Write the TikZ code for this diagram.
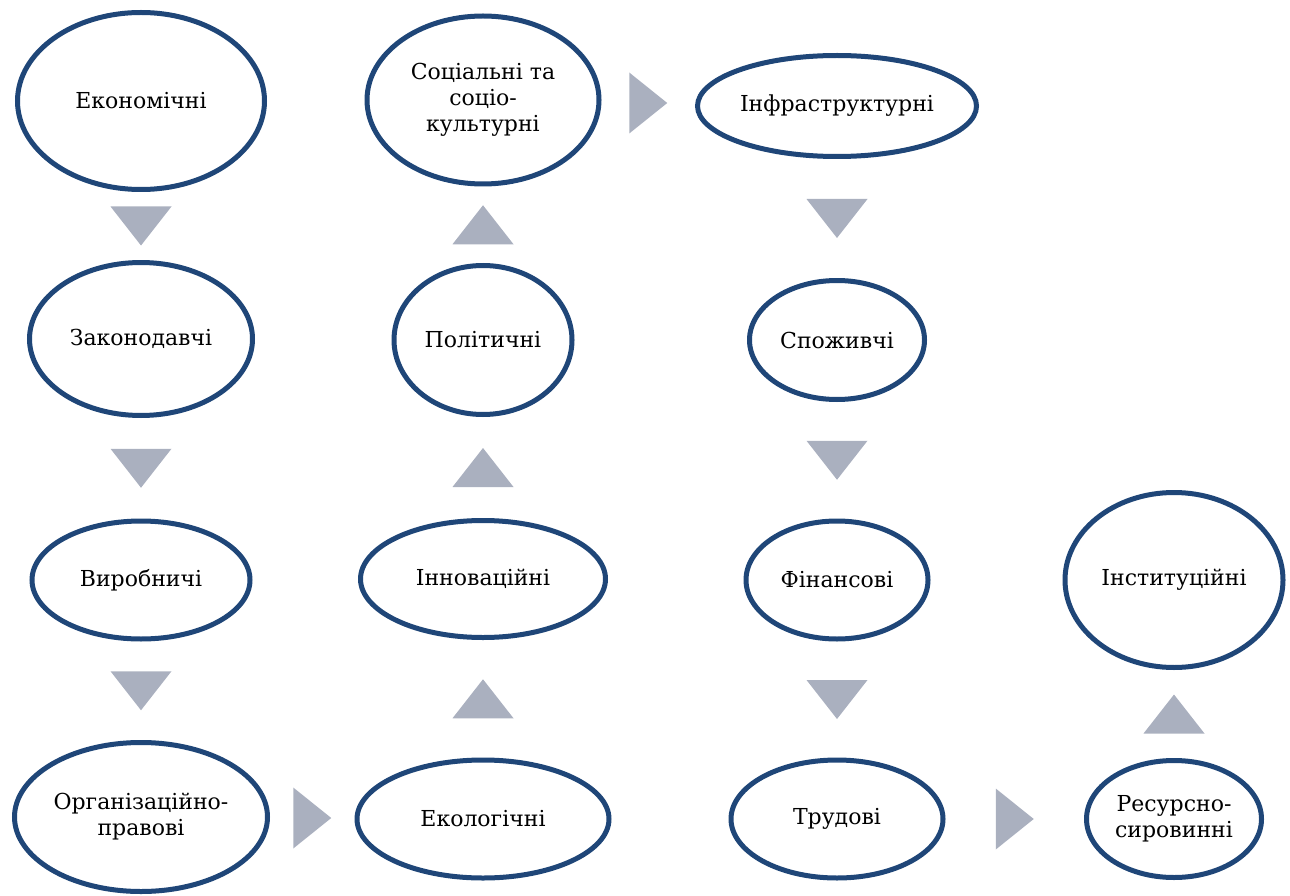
\documentclass[tikz,border=0pt]{standalone}
\usepackage{fontspec}
\setmainfont{DejaVu Serif}
\newfontfamily\factorfont{DejaVu Serif}
\usetikzlibrary{shapes,positioning,calc}
\definecolor{factorblue}{RGB}{31,70,120}
\definecolor{chevrongray}{RGB}{170,176,191}

\begin{document}
\begin{tikzpicture}
  [x=1pt, y=1pt,
   factor/.style 2 args={
    ellipse,
    draw=factorblue,
    line width=5pt,
    fill=white,
    minimum width=#1pt,
    minimum height=#2pt,
    inner sep=0pt,
    align=center,
    font=\factorfont\fontsize{22}{26}\selectfont
    },
   chevron/.style={fill=chevrongray}
  ]
  \useasboundingbox (0,0) rectangle (1290,-896);

  % prima colonna
  \node [factor={247}{177}] (econ) at (141,-101) {Економічні};
  \node [factor={223}{153}, below=238pt of econ.center, anchor=center] (zakon) {Законодавчі};
  \node [factor={218}{118}, below=241pt of zakon.center, anchor=center] (vyrob) {Виробничі};
  \node [factor={253}{149}, below=237pt of vyrob.center, anchor=center] (orhan) {Організаційно-\\правові};

  % seconda colonna (dal basso)
  \node [factor={232}{168}] (socio) at (483,-100) {Соціальні та\\соціо-\\культурні};
  \node [factor={178}{149}, below=240pt of socio.center, anchor=center] (polit) {Політичні};
  \node [factor={245}{117}, below=239pt of polit.center, anchor=center] (innov) {Інноваційні};
  \node [factor={252}{118}, below=240pt of innov.center, anchor=center] (ekol) {Екологічні};

  % terza colonna
  \node [factor={279}{101}] (infra) at (837,-106) {Інфраструктурні};
  \node [factor={175}{119}, below=234pt of infra.center, anchor=center] (spozh) {Споживчі};
  \node [factor={182}{118}, below=240pt of spozh.center, anchor=center] (finan) {Фінансові};
  \node [factor={212}{118}, below=239pt of finan.center, anchor=center] (trud) {Трудові};

  % quarta colonna
  \node [factor={218}{175}] (instyt) at (1174,-580) {Інституційні};
  \node [factor={175}{117}, below=239pt of instyt.center, anchor=center] (resurs) {Ресурсно-\\сировинні};

  % frecce
  \foreach \a/\b in {econ/zakon, zakon/vyrob, vyrob/orhan, infra/spozh, spozh/finan, finan/trud}
    \fill [chevron] ($(\a.south)!0.5!(\b.north)$) ++(-30.5,19.5) -- ++(61,0) -- ++(-30.5,-39) -- cycle;
  \foreach \a/\b in {ekol/innov, innov/polit, polit/socio, resurs/instyt}
    \fill [chevron] ($(\a.north)!0.5!(\b.south)$) ++(-30.5,-19.5) -- ++(61,0) -- ++(-30.5,39) -- cycle;
  \foreach \a/\b in {orhan/ekol, socio/infra, trud/resurs}
    \fill [chevron] ($(\a.east)!0.5!(\b.west)$) ++(-19,30.5) -- ++(0,-61) -- ++(38,30.5) -- cycle;
\end{tikzpicture}
\end{document}
